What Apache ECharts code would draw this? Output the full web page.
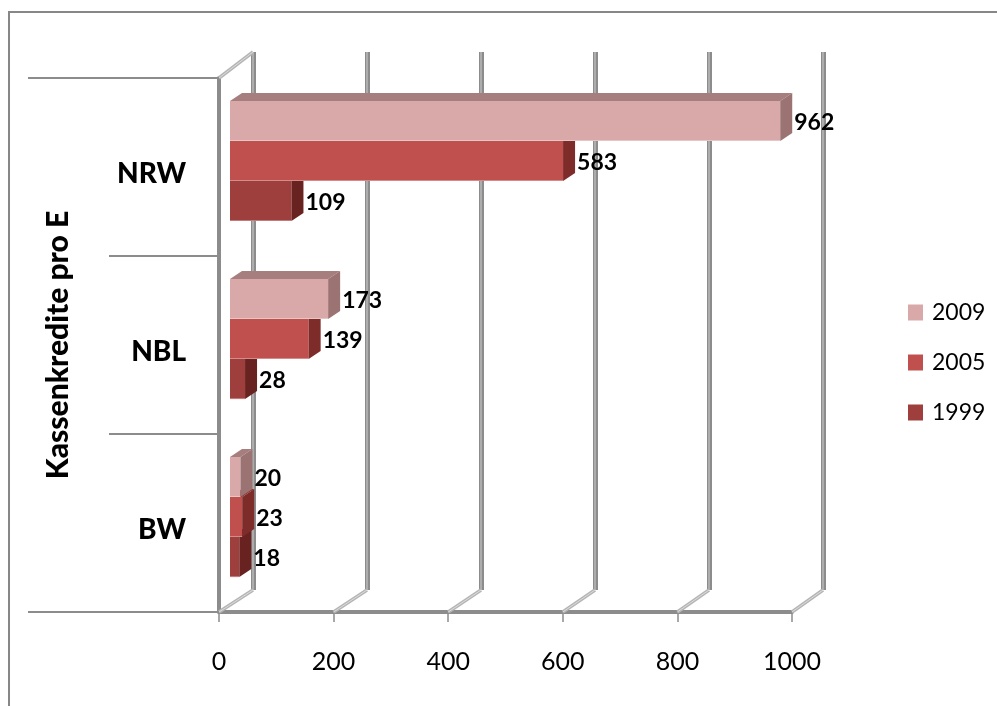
<!DOCTYPE html>
<html>
<head>
<meta charset="utf-8">
<script src="https://cdn.jsdelivr.net/npm/echarts@6/dist/echarts.min.js"></script>
<style>
  html, body { margin: 0; padding: 0; background: #fff; }
  #chart { width: 997px; height: 706px; }
</style>
</head>
<body>
<div id="chart"></div>
<script>
// Kassenkredite pro Einwohner, by Land group and year
const categories = ['NRW', 'NBL', 'BW'];
const years = ['2009', '2005', '1999'];
const values2009 = [962, 173, 20];
const values2005 = [583, 139, 23];
const values1999 = [109, 28, 18];
const axisTicks = [0, 200, 400, 600, 800, 1000];

const FONT = 'Lato, "Open Sans", sans-serif';
const GRID_GRAY = '#8c8c8c';
const FLOOR_GRAY = '#b5b5b5';

// face colours per year: front, top, side
const palette = {
  '2009': { front: '#D9A8A8', top: '#A67E7E', side: '#9B7373' },
  '2005': { front: '#C0504D', top: '#8E3633', side: '#7E2C2A' },
  '1999': { front: '#9F3F3D', top: '#772B29', side: '#682321' }
};

// offsets of a bar's front face and its depth inside the 3D box
const FRONT_DX = 10, FRONT_DY = -8;
const DEPTH_DX = 12, DEPTH_DY = -8;
const BAR_SHARE = 0.225;

const chart = echarts.init(document.getElementById('chart'));

function barRenderer(slot, colors) {
  return function (params, api) {
    const v = api.value(0);
    const c = api.value(1);
    const base = api.coord([0, c]);
    const end = api.coord([v, c]);
    const band = api.size([0, 1])[1];
    const h = band * BAR_SHARE;
    const yt = base[1] + (slot - 1.5) * h + 2 + FRONT_DY;
    const yb = yt + h;
    const x0 = base[0] + FRONT_DX + 1;
    const x1 = end[0] + FRONT_DX;
    return {
      type: 'group',
      children: [
        { type: 'rect', shape: { x: x0, y: yt, width: x1 - x0, height: h },
          style: { fill: colors.front } },
        { type: 'polygon', shape: { points: [[x0, yt], [x0 + DEPTH_DX, yt + DEPTH_DY], [x1 + DEPTH_DX, yt + DEPTH_DY], [x1, yt]] },
          style: { fill: colors.top } },
        { type: 'polygon', shape: { points: [[x1, yt], [x1 + DEPTH_DX, yt + DEPTH_DY], [x1 + DEPTH_DX, yb + DEPTH_DY], [x1, yb]] },
          style: { fill: colors.side } },
        { type: 'line', shape: { x1: x0, y1: yb - 0.5, x2: x1, y2: yb - 0.5 },
          style: { stroke: 'rgba(255,255,255,0.35)', lineWidth: 1 } },
        { type: 'text', z2: 10,
          style: { x: x1 + DEPTH_DX + 2, y: (yt + yb) / 2 + 2, text: String(v),
                   fill: '#000', font: 'bold 23px ' + FONT,
                   textAlign: 'left', textVerticalAlign: 'middle' } }
      ]
    };
  };
}

// floor diagonals joining the front axis to the back wall, the top edge of the
// side wall and the long outer rules of the category axis
function floorRenderer(params, api) {
  const v = api.value(0);
  const cs = params.coordSys;
  const fx = api.coord([v, 0])[0];
  const fy = cs.y + cs.height;
  let back, backTop;
  try {
    back = chart.convertToPixel({ gridIndex: 1 }, [v, 0]);
    backTop = chart.convertToPixel({ gridIndex: 1 }, [0, 1]);
  } catch (e) {
    back = [fx + 35, fy - 22];
    backTop = [cs.x + 35, cs.y - 26];
  }
  const edge = (ax, ay, bx, by) => [
    { type: 'line', shape: { x1: ax, y1: ay, x2: bx, y2: by },
      style: { stroke: FLOOR_GRAY, lineWidth: 3.5 } },
    { type: 'line', shape: { x1: ax, y1: ay, x2: bx, y2: by },
      style: { stroke: '#dcdcdc', lineWidth: 1 } }
  ];
  const children = edge(fx, fy, back[0], back[1]);
  if (v === 0) {
    children.push(...edge(cs.x, cs.y, backTop[0], backTop[1]));
    children.push(
      { type: 'line', shape: { x1: cs.x - 191, y1: cs.y, x2: cs.x, y2: cs.y },
        style: { stroke: GRID_GRAY, lineWidth: 2 } },
      { type: 'line', shape: { x1: cs.x - 191, y1: fy, x2: cs.x, y2: fy },
        style: { stroke: GRID_GRAY, lineWidth: 2 } }
    );
  }
  return { type: 'group', children: children };
}

function seriesData(values) {
  return values.map((v, i) => [v, i]);
}

const option = {
  animation: false,
  backgroundColor: '#fff',
  textStyle: { fontFamily: FONT },
  graphic: [{
    type: 'rect', z: -10, silent: true,
    shape: { x: 9, y: 12, width: 1100, height: 900 },
    style: { fill: 'none', stroke: '#878787', lineWidth: 2 }
  }],
  legend: {
    data: years,
    orient: 'vertical',
    left: 903, top: 296,
    icon: 'rect',
    itemWidth: 15, itemHeight: 16,
    itemGap: 27,
    textStyle: { fontFamily: FONT, fontSize: 23, color: '#000', padding: [0, 0, 0, 4] }
  },
  grid: [
    { left: 219, right: 205, top: 78, bottom: 94 },   // front plane
    { left: 253, right: 174, top: 52, bottom: 116 },  // back wall
    { left: 253, right: 174, top: 52, bottom: 116 }   // back wall highlight
  ],
  xAxis: [
    {
      gridIndex: 0, type: 'value', min: 0, max: 1000, interval: 200,
      axisLine: { show: true, lineStyle: { color: GRID_GRAY, width: 4 } },
      axisTick: { show: true, length: 10, lineStyle: { color: GRID_GRAY, width: 1.5 } },
      axisLabel: { margin: 37, fontFamily: FONT, fontSize: 25, color: '#000',
                   formatter: v => axisTicks.includes(v) ? String(v) : '' },
      splitLine: { show: false }
    },
    {
      gridIndex: 1, type: 'value', min: 0, max: 1000, interval: 200,
      axisLine: { show: false }, axisTick: { show: false }, axisLabel: { show: false },
      splitLine: { show: true, lineStyle: { color: GRID_GRAY, width: 5 } }
    },
    {
      gridIndex: 2, type: 'value', min: 0, max: 1000, interval: 200,
      axisLine: { show: false }, axisTick: { show: false }, axisLabel: { show: false },
      splitLine: { show: true, lineStyle: { color: '#b9b9b9', width: 1.5 } }
    }
  ],
  yAxis: [
    {
      gridIndex: 0, type: 'category', data: categories, inverse: true,
      name: 'Kassenkredite pro E', nameLocation: 'middle', nameGap: 146, nameRotate: 90,
      nameTextStyle: { fontFamily: FONT, fontSize: 30, fontWeight: 900, color: '#000' },
      axisLine: { show: true, lineStyle: { color: GRID_GRAY, width: 4 } },
      axisTick: { show: true, length: 110, lineStyle: { color: GRID_GRAY, width: 2 } },
      axisLabel: { margin: 33, color: '#000',
                   formatter: v => '{c|' + v + '}',
                   rich: { c: { fontFamily: FONT, fontSize: 28, fontWeight: 900, color: '#000',
                                padding: [14, 0, 0, 0] } } },
      splitLine: { show: false }
    },
    { gridIndex: 1, type: 'value', min: 0, max: 1, show: false, splitLine: { show: false } },
    { gridIndex: 2, type: 'value', min: 0, max: 1, show: false, splitLine: { show: false } }
  ],
  series: [
    {
      name: 'floor', type: 'custom', xAxisIndex: 0, yAxisIndex: 0, z: 1, silent: true,
      renderItem: floorRenderer,
      data: axisTicks.map(t => [t]),
      encode: { x: 0 }
    },
    {
      name: '2009', type: 'custom', xAxisIndex: 0, yAxisIndex: 0, z: 6,
      itemStyle: { color: palette['2009'].front },
      renderItem: barRenderer(0, palette['2009']),
      data: seriesData(values2009), encode: { x: 0, y: 1 }
    },
    {
      name: '2005', type: 'custom', xAxisIndex: 0, yAxisIndex: 0, z: 5,
      itemStyle: { color: palette['2005'].front },
      renderItem: barRenderer(1, palette['2005']),
      data: seriesData(values2005), encode: { x: 0, y: 1 }
    },
    {
      name: '1999', type: 'custom', xAxisIndex: 0, yAxisIndex: 0, z: 4,
      itemStyle: { color: palette['1999'].front },
      renderItem: barRenderer(2, palette['1999']),
      data: seriesData(values1999), encode: { x: 0, y: 1 }
    }
  ]
};

chart.setOption(option);
</script>
</body>
</html>
